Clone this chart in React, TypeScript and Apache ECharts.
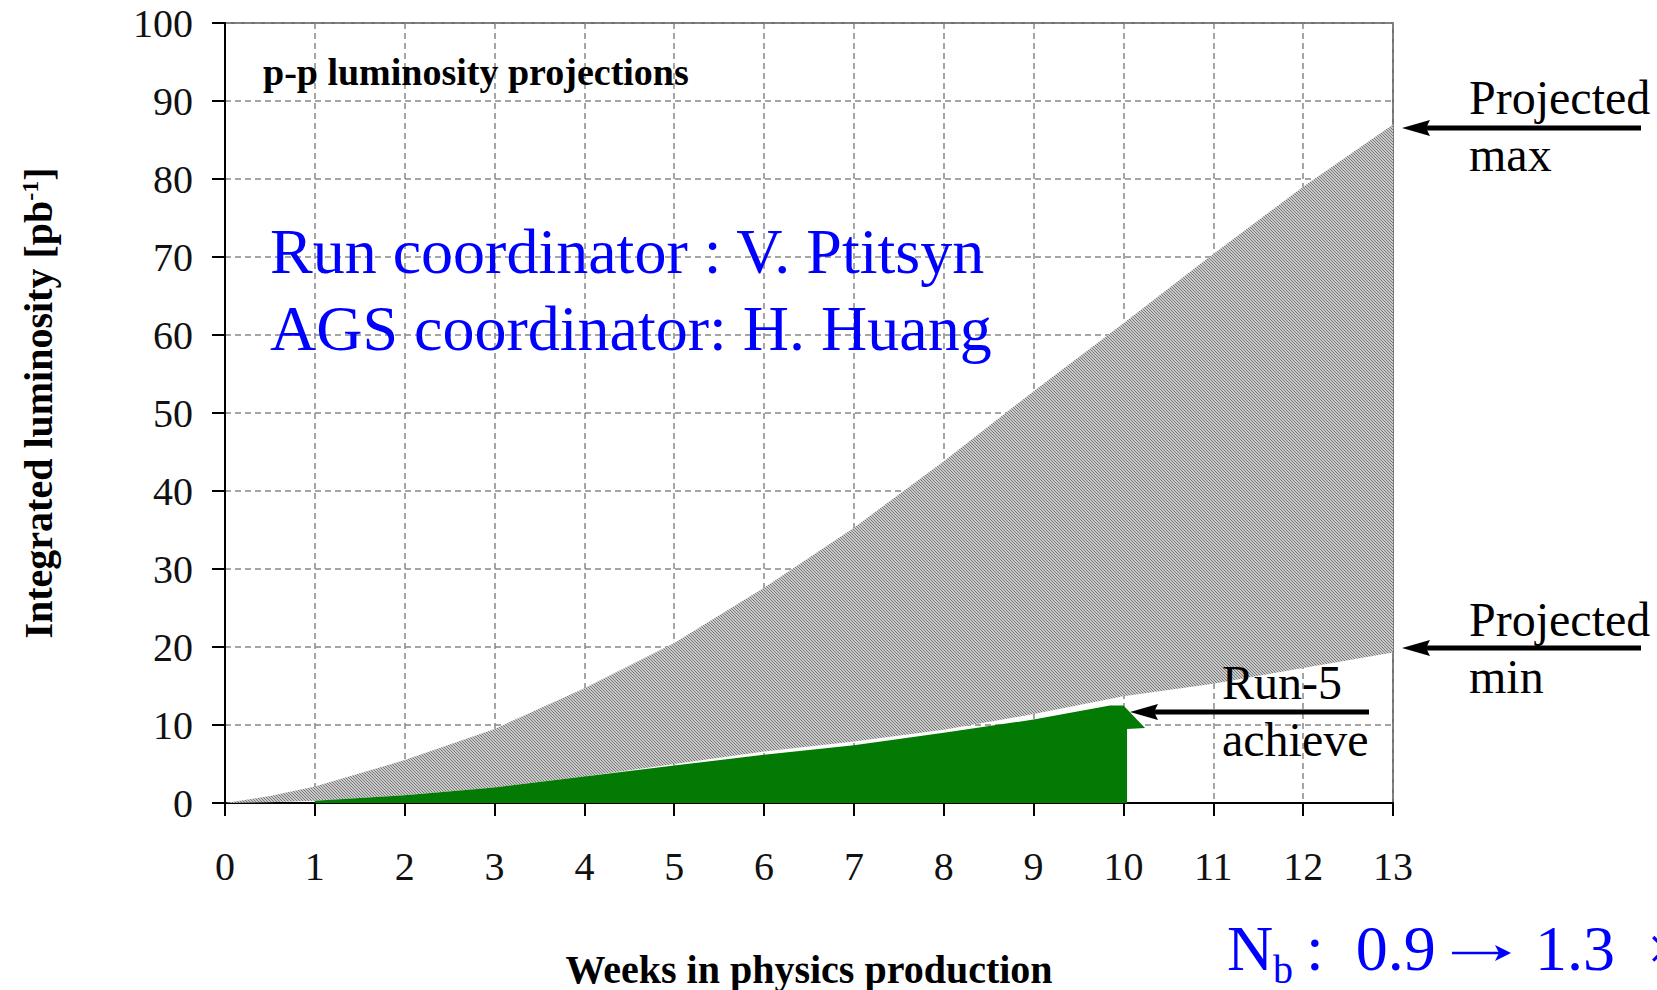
import React, { useEffect, useRef } from 'react';
import * as echarts from 'echarts';

// ---- data ----
const weeks = [0, 0.5, 1, 2, 3, 4, 5, 6, 7, 8, 9, 10, 11, 12, 13];
const projectedMax = [0, 0.9, 2.1, 5.5, 9.5, 14.7, 20.5, 27.6, 35.3, 43.8, 52.8, 61.5, 70.4, 79.0, 87.0];
const projectedMin = [0, 0.1, 0.3, 1.0, 2.0, 3.4, 5.0, 6.6, 7.9, 9.4, 11.4, 13.7, 15.3, 17.3, 19.3];

const achievedWeeks = [1, 2, 3, 4, 5, 6, 7, 8, 9, 9.85, 10.0, 10.24, 10.04, 10.04];
const achievedLum = [0.3, 1.0, 2.0, 3.4, 4.8, 6.2, 7.4, 9.0, 10.7, 12.5, 12.5, 9.6, 9.5, 0];

const xMin = 0;
const xMax = 13;
const xStep = 1;
const yMin = 0;
const yMax = 100;
const yStep = 10;

const SERIF = '"Liberation Serif", "Times New Roman", serif';

function makeHatch(): HTMLCanvasElement {
  const c = document.createElement('canvas');
  c.width = 3;
  c.height = 3;
  const ctx = c.getContext('2d')!;
  ctx.fillStyle = '#c9c9c9';
  ctx.fillRect(0, 0, 3, 3);
  ctx.fillStyle = '#7a7a7a';
  for (let i = 0; i < 3; i++) ctx.fillRect(i, i, 1, 1);
  return c;
}

function txt(text: string, x: number, y: number, size: number, opts: any = {}) {
  return {
    type: 'text',
    x,
    y,
    z: 100,
    rotation: opts.rotation || 0,
    style: {
      text,
      fontFamily: SERIF,
      fontSize: size,
      fontWeight: opts.bold ? 'bold' : 'normal',
      fill: opts.color || '#000',
      align: opts.align || 'left',
      textAlign: opts.align || 'left',
      verticalAlign: 'middle',
      textVerticalAlign: 'middle',
      rich: opts.rich,
    },
  };
}

function arrow(x1: number, x2: number, y: number, color = '#000', lw = 5, hl = 28, hh = 8) {
  // x1 = tip (left), x2 = tail (right)
  return [
    {
      type: 'line',
      z: 100,
      shape: { x1: x1 + hl - 4, y1: y, x2, y2: y },
      style: { stroke: color, lineWidth: lw },
    },
    {
      type: 'polygon',
      z: 100,
      shape: { points: [[x1, y], [x1 + hl, y - hh], [x1 + hl - 4, y], [x1 + hl, y + hh]] },
      style: { fill: color },
    },
  ];
}

function rightArrow(x1: number, x2: number, y: number, color: string) {
  // x1 = tail (left), x2 = tip (right)
  return [
    {
      type: 'line',
      z: 100,
      shape: { x1, y1: y, x2: x2 - 10, y2: y },
      style: { stroke: color, lineWidth: 2.5 },
    },
    {
      type: 'polygon',
      z: 100,
      shape: { points: [[x2, y], [x2 - 16, y - 8], [x2 - 12, y], [x2 - 16, y + 8]] },
      style: { fill: color },
    },
  ];
}

export default function App() {
  const ref = useRef<HTMLDivElement>(null);

  useEffect(() => {
    document.body.style.margin = '0';
    if (!ref.current) return;
    const chart = echarts.init(ref.current, undefined, { renderer: 'svg' });

    const bandData = weeks.map((w, i) => [w, projectedMax[i], projectedMin[i]]);
    const achievedPairs = achievedWeeks.map((w, i) => [w, achievedLum[i]]);

    const hatch = makeHatch();
    const hatchFill = { image: hatch, repeat: 'repeat', imageWidth: 3, imageHeight: 3 };

    const blue = '#0000ff';

    chart.setOption({
      animation: false,
      backgroundColor: '#ffffff',
      grid: {
        left: 225,
        top: 23,
        width: 1168,
        height: 780,
        show: true,
        borderColor: '#444',
        borderWidth: 1.5,
        backgroundColor: 'transparent',
      },
      xAxis: {
        type: 'value',
        min: xMin,
        max: xMax,
        interval: xStep,
        axisLine: { show: true, onZero: false, lineStyle: { color: '#000', width: 2 } },
        axisTick: { show: true, length: 13, lineStyle: { color: '#000', width: 2 } },
        axisLabel: { margin: 43, fontSize: 40, fontFamily: SERIF, color: '#111' },
        splitLine: { show: true, lineStyle: { color: '#888', width: 1.5, type: [6, 4] } },
      },
      yAxis: {
        type: 'value',
        min: yMin,
        max: yMax,
        interval: yStep,
        axisLine: { show: true, onZero: false, lineStyle: { color: '#000', width: 2 } },
        axisTick: { show: true, length: 13, lineStyle: { color: '#000', width: 2 } },
        axisLabel: { margin: 32, fontSize: 40, fontFamily: SERIF, color: '#111' },
        splitLine: { show: true, lineStyle: { color: '#888', width: 1.5, type: [6, 4] } },
      },
      series: [
        {
          name: 'Projected range',
          type: 'custom',
          coordinateSystem: 'cartesian2d',
          data: bandData,
          encode: { x: 0, y: [1, 2] },
          silent: true,
          z: 2,
          renderItem: (params: any, api: any) => {
            if (params.dataIndex !== 0) return { type: 'group', children: [] };
            const top = weeks.map((w, i) => api.coord([w, projectedMax[i]]));
            const bottom = weeks.map((w, i) => api.coord([w, projectedMin[i]])).reverse();
            return {
              type: 'polygon',
              shape: { points: top.concat(bottom) },
              style: { fill: hatchFill, stroke: 'none' },
            };
          },
        },
        {
          name: 'Run-5 achieved',
          type: 'line',
          data: achievedPairs,
          symbol: 'none',
          lineStyle: { width: 0, opacity: 0 },
          areaStyle: { opacity: 1, color: '#037a03' },
          z: 3,
          silent: true,
        },
      ],
      graphic: [
        txt('p-p luminosity projections', 263, 72, 38, { bold: true }),
        txt('Run coordinator : V. Ptitsyn', 270, 251, 64, { color: blue }),
        txt('AGS coordinator: H. Huang', 270, 328, 64, { color: blue }),
        txt('Projected', 1469, 97, 48),
        txt('max', 1469, 154, 48),
        txt('Projected', 1469, 619, 48),
        txt('min', 1469, 676, 48),
        txt('Run-5', 1222, 682, 48),
        txt('achieve', 1222, 739, 48),
        ...arrow(1402, 1641, 128),
        ...arrow(1402, 1641, 648),
        ...arrow(1130, 1369, 712),
        txt('N', 1227, 948, 64, { color: blue }),
        txt('b', 1273, 969, 40, { color: blue }),
        txt(' :  0.9', 1290, 948, 64, { color: blue }),
        ...rightArrow(1452, 1511, 953, blue),
        txt('1.3  ×', 1535, 948, 64, { color: blue }),
        txt('Weeks in physics production', 809, 969, 40, { bold: true, align: 'center' }),
        txt('{a|Integrated luminosity [pb}{s|-1}{a|]}', 38, 403, 40, {
          bold: true,
          align: 'center',
          rotation: Math.PI / 2,
          rich: {
            a: { fontFamily: SERIF, fontSize: 40, fontWeight: 'bold', fill: '#000' },
            s: { fontFamily: SERIF, fontSize: 24, fontWeight: 'bold', fill: '#000', verticalAlign: 'top' },
          },
        }),
      ],
    });

    return () => chart.dispose();
  }, []);

  return <div ref={ref} style={{ width: 1657, height: 990 }} />;
}
